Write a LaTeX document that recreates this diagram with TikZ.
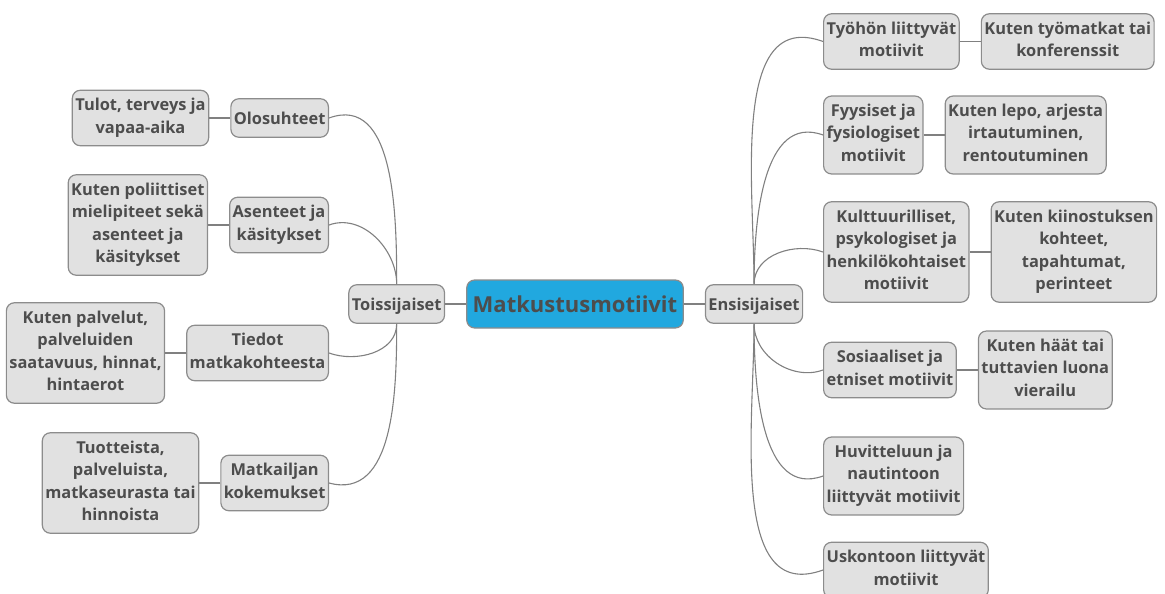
\documentclass[tikz,border=0pt]{standalone}
\usepackage{fontspec}
\setmainfont{Open Sans}
\usetikzlibrary{positioning}
\definecolor{boxfill}{HTML}{E1E1E1}
\definecolor{boxline}{HTML}{8C8C8C}
\definecolor{boxtext}{HTML}{4D4D4D}
\definecolor{mainfill}{HTML}{21A8DF}
\definecolor{linkline}{HTML}{808080}

\begin{document}
\begin{tikzpicture}[x=1pt,y=-1pt,
  box/.style={draw=boxline,fill=boxfill,rounded corners=8pt,line width=1.2pt,
    align=center,text=boxtext,inner xsep=3pt,inner ysep=8pt,
    font=\bfseries\fontsize{16.4}{22.5}\selectfont,
    execute at begin node={\rule{0pt}{18pt}},
    execute at end node={\rule[-4.5pt]{0pt}{4.5pt}}},
  mainbox/.style={draw=boxline,fill=mainfill,rounded corners=8pt,line width=1.2pt,
    text=boxtext,inner xsep=6pt,minimum height=48pt,
    font=\bfseries\fontsize{22}{26}\selectfont},
  link/.style={draw=linkline,line width=1.1pt}]
\useasboundingbox (0,0) rectangle (1165,594);

% keskus
\node[mainbox] (mm) at (575,304) {Matkustusmotiivit};
\node[box,right=21pt of mm] (ens) {Ensisijaiset};
\node[box,left=21pt of mm] (toi) {Toissijaiset};

% toissijaiset
\node[box,anchor=east] (olo) at (329,118) {Olosuhteet};
\node[box,anchor=east] (ase) at (329,225) {Asenteet ja\\käsitykset};
\node[box,anchor=east] (tie) at (329,353) {Tiedot\\matkakohteesta};
\node[box,anchor=east] (kok) at (329,483) {Matkailjan\\kokemukset};

\node[box,left=21pt of olo] (olo1) {Tulot, terveys ja\\vapaa-aika};
\node[box,left=21pt of ase] (ase1) {Kuten poliittiset\\mielipiteet sekä\\asenteet ja\\käsitykset};
\node[box,left=21pt of tie] (tie1) {Kuten palvelut,\\palveluiden\\saatavuus, hinnat,\\hintaerot};
\node[box,left=21pt of kok] (kok1) {Tuotteista,\\palveluista,\\matkaseurasta tai\\hinnoista};

% ensisijaiset
\node[box,anchor=west] (tyo) at (823,41.5) {Työhön liittyvät\\motiivit};
\node[box,anchor=west] (fyy) at (823,135) {Fyysiset ja\\fysiologiset\\motiivit};
\node[box,anchor=west] (kul) at (823,252) {Kulttuurilliset,\\psykologiset ja\\henkilökohtaiset\\motiivit};
\node[box,anchor=west] (sos) at (823,370) {Sosiaaliset ja\\etniset motiivit};
\node[box,anchor=west] (huv) at (823,476) {Huvitteluun ja\\nautintoon\\liittyvät motiivit};
\node[box,anchor=west] (usk) at (823,570) {Uskontoon liittyvät\\motiivit};

\node[box,right=21pt of tyo] (tyo1) {Kuten työmatkat tai\\konferenssit};
\node[box,right=21pt of fyy] (fyy1) {Kuten lepo, arjesta\\irtautuminen,\\rentoutuminen};
\node[box,right=21pt of kul] (kul1) {Kuten kiinostuksen\\kohteet,\\tapahtumat,\\perinteet};
\node[box,right=21pt of sos] (sos1) {Kuten häät tai\\tuttavien luona\\vierailu};

% yhteydet
\draw[link] (mm) -- (ens);
\draw[link] (mm) -- (toi);

\draw[link] (toi.north) to[out=90,in=20] (olo.east);
\draw[link] (toi.north) to[out=90,in=20] (ase.east);
\draw[link] (toi.south) to[out=-90,in=-20] (tie.east);
\draw[link] (toi.south) to[out=-90,in=-15] (kok.east);

\draw[link] (ens.north) to[out=90,in=160] (tyo.west);
\draw[link] (ens.north) to[out=90,in=160] (fyy.west);
\draw[link] (ens.north) to[out=90,in=160] (kul.west);
\draw[link] (ens.south) to[out=-90,in=200] (sos.west);
\draw[link] (ens.south) to[out=-90,in=200] (huv.west);
\draw[link] (ens.south) to[out=-90,in=200] (usk.west);

\draw[link] (olo) -- (olo1);
\draw[link] (ase) -- (ase1);
\draw[link] (tie) -- (tie1);
\draw[link] (kok) -- (kok1);
\draw[link] (tyo) -- (tyo1);
\draw[link] (fyy) -- (fyy1);
\draw[link] (kul) -- (kul1);
\draw[link] (sos) -- (sos1);

\end{tikzpicture}
\end{document}
